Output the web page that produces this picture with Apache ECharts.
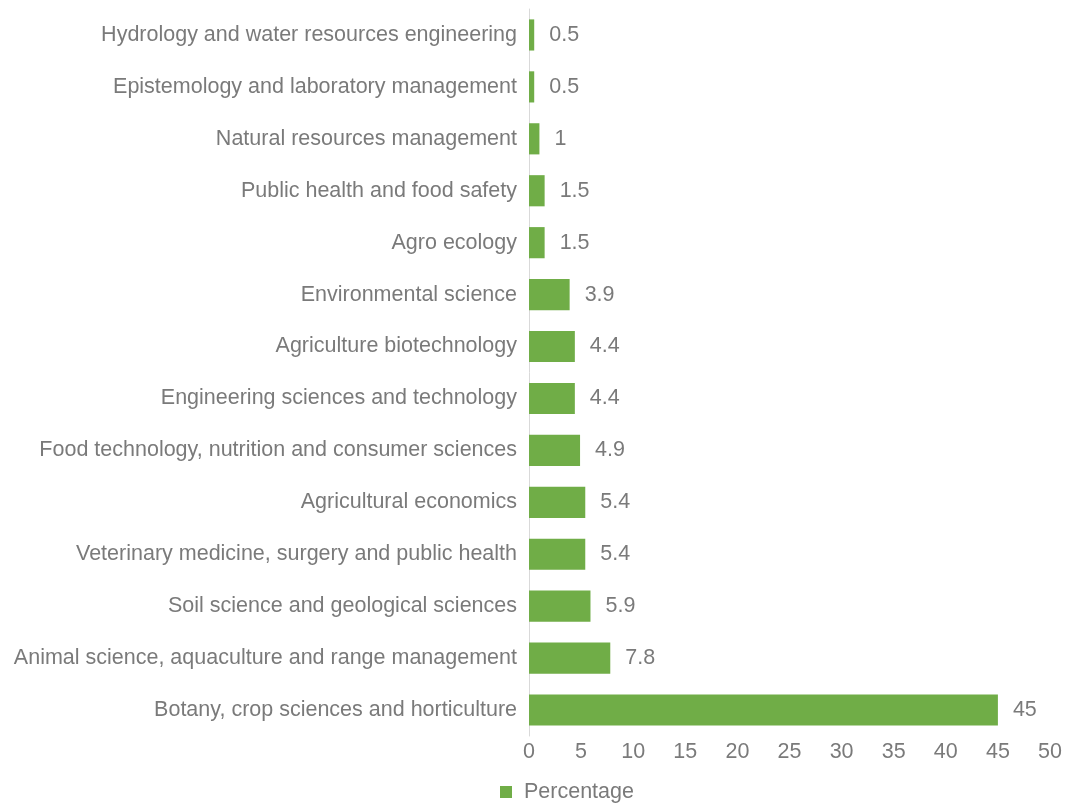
<!DOCTYPE html>
<html>
<head>
<meta charset="utf-8">
<script src="https://cdn.jsdelivr.net/npm/echarts@6/dist/echarts.min.js"></script>
<style>
  html, body { margin: 0; padding: 0; background: #fff; }
  #chart { width: 1071px; height: 805px; }
</style>
</head>
<body>
<div id="chart"></div>
<script>
// categories, bottom to top as drawn on the axis
const fields = [
  "Botany, crop sciences and horticulture",
  "Animal science, aquaculture and range management",
  "Soil science and geological sciences",
  "Veterinary medicine, surgery and public health",
  "Agricultural economics",
  "Food technology, nutrition and consumer sciences",
  "Engineering sciences and technology",
  "Agriculture biotechnology",
  "Environmental science",
  "Agro ecology",
  "Public health and food safety",
  "Natural resources management",
  "Epistemology and laboratory management",
  "Hydrology and water resources engineering"
];
const percentage = [45, 7.8, 5.9, 5.4, 5.4, 4.9, 4.4, 4.4, 3.9, 1.5, 1.5, 1, 0.5, 0.5];

const textColor = "#7a7a7a";
const font = "'Liberation Sans', Arial, sans-serif";
const fs = 21.5;

const chart = echarts.init(document.getElementById("chart"));
chart.setOption({
  animation: false,
  textStyle: { fontFamily: font },
  grid: { left: 529, right: 21, top: 9, bottom: 69 },
  legend: {
    top: 776,
    left: 495,
    itemWidth: 12,
    itemHeight: 12,
    icon: "rect",
    textStyle: { color: textColor, fontSize: fs, fontFamily: font, padding: [0, 0, 0, 7] },
    data: ["Percentage"]
  },
  xAxis: {
    type: "value",
    min: 0,
    max: 50,
    interval: 5,
    axisLine: { show: false },
    axisTick: { show: false },
    splitLine: { show: false },
    axisLabel: { color: textColor, fontSize: fs, margin: 5, fontFamily: font }
  },
  yAxis: {
    type: "category",
    data: fields,
    axisLine: { show: true, lineStyle: { color: "#d9d9d9", width: 1 } },
    axisTick: { show: false },
    axisLabel: { color: textColor, fontSize: fs, margin: 12, fontFamily: font }
  },
  series: [
    {
      name: "Percentage",
      type: "bar",
      data: percentage,
      barCategoryGap: "40%",
      itemStyle: { color: "#70ad47" },
      label: {
        show: true,
        position: "right",
        distance: 15,
        color: textColor,
        fontSize: fs,
        fontFamily: font
      }
    }
  ]
});
</script>
</body>
</html>
